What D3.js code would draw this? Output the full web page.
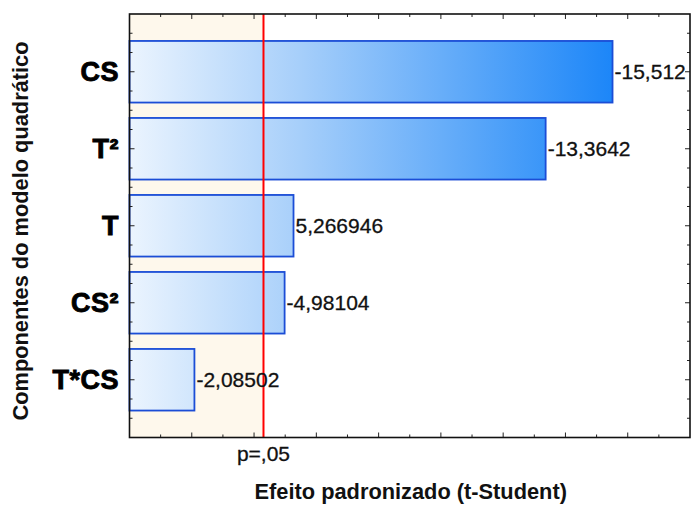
<!DOCTYPE html>
<html>
<head>
<meta charset="utf-8">
<script src="https://cdn.jsdelivr.net/npm/d3@7"></script>
<style>
  html, body { margin: 0; padding: 0; background: #fff; }
  svg { display: block; font-family: "Liberation Sans", Arial, sans-serif; }
</style>
</head>
<body>
<svg id="chart" width="692" height="505"></svg>
<script>
// Pareto chart of standardized effects (t-Student)
const categories = ["CS", "T²", "T", "CS²", "T*CS"];
const effects = [-15.512, -13.3642, 5.266946, -4.98104, -2.08502];
const pLabel = "p=,05";
const tCritical = 4.303;        // t(0.025; 2 gl)
const xDomain = [0, 18];
const xTickValues = d3.range(0, 19, 1);
const yTickValues = d3.range(-0.75, 4.76, 0.25);

const svg = d3.select("#chart");
const plot = { left: 129.5, right: 690, top: 14, bottom: 437.5 };

const x = d3.scaleLinear().domain(xDomain).range([plot.left, plot.right]);
const y = d3.scaleLinear().domain([-0.75, categories.length - 0.25]).range([plot.top, plot.bottom]);

const fmt = v => String(v).replace(".", ",");
const absMax = d3.max(effects, d => Math.abs(d));

// bar gradient spans the plot horizontally
const defs = svg.append("defs");
const grad = defs.append("linearGradient")
  .attr("id", "barGrad")
  .attr("gradientUnits", "userSpaceOnUse")
  .attr("x1", x(0)).attr("x2", x(absMax))
  .attr("y1", 0).attr("y2", 0);
grad.append("stop").attr("offset", 0).attr("stop-color", "#ebf4fe");
grad.append("stop").attr("offset", 0.35).attr("stop-color", "#a7cffa");
grad.append("stop").attr("offset", 1).attr("stop-color", "#1c86f8");

// non-significant region
svg.append("rect")
  .attr("x", x(0)).attr("y", plot.top)
  .attr("width", x(tCritical) - x(0))
  .attr("height", plot.bottom - plot.top)
  .attr("fill", "#fef8ec");

// bars
const barHalf = 0.4;
svg.append("g").selectAll("rect")
  .data(effects)
  .join("rect")
  .attr("x", x(0))
  .attr("y", (d, i) => y(i - barHalf))
  .attr("width", d => x(Math.abs(d)) - x(0))
  .attr("height", (d, i) => y(i + barHalf) - y(i - barHalf))
  .attr("fill", "url(#barGrad)")
  .attr("stroke", "#1b4dd6")
  .attr("stroke-width", 1.8);

// critical value line
svg.append("line")
  .attr("x1", x(tCritical)).attr("x2", x(tCritical))
  .attr("y1", plot.top).attr("y2", plot.bottom)
  .attr("stroke", "#ff0000")
  .attr("stroke-width", 2);

// value labels
svg.append("g").selectAll("text")
  .data(effects)
  .join("text")
  .attr("x", d => x(Math.abs(d)) + 2)
  .attr("y", (d, i) => y(i))
  .attr("dy", "0.36em")
  .attr("font-size", 21)
  .attr("fill", "#111")
  .attr("stroke", "#111")
  .attr("stroke-width", 0.3)
  .text(d => fmt(d));

// inward ticks
const ticks = svg.append("g").attr("stroke", "#222").attr("stroke-width", 1);
xTickValues.forEach(v => {
  if (v === xDomain[0] || v === xDomain[1]) return;
  const len = v % 2 === 0 ? 5 : 3;
  ticks.append("line").attr("x1", x(v)).attr("x2", x(v)).attr("y1", plot.bottom).attr("y2", plot.bottom - len);
  ticks.append("line").attr("x1", x(v)).attr("x2", x(v)).attr("y1", plot.top).attr("y2", plot.top + len);
});
yTickValues.forEach(v => {
  if (v <= -0.75 || v >= categories.length - 0.25) return;
  const len = Number.isInteger(v) ? 5 : 3;
  ticks.append("line").attr("x1", plot.left).attr("x2", plot.left + len).attr("y1", y(v)).attr("y2", y(v));
  ticks.append("line").attr("x1", plot.right).attr("x2", plot.right - len).attr("y1", y(v)).attr("y2", y(v));
});

// plot frame
svg.append("rect")
  .attr("x", plot.left).attr("y", plot.top)
  .attr("width", plot.right - plot.left)
  .attr("height", plot.bottom - plot.top)
  .attr("fill", "none")
  .attr("stroke", "#111")
  .attr("stroke-width", 1.6);

// category labels
svg.append("g").selectAll("text")
  .data(categories)
  .join("text")
  .attr("x", 119)
  .attr("y", (d, i) => y(i))
  .attr("dy", "0.36em")
  .attr("text-anchor", "end")
  .attr("font-size", 27)
  .attr("font-weight", "bold")
  .attr("fill", "#000")
  .attr("stroke", "#000")
  .attr("stroke-width", 0.9)
  .attr("letter-spacing", 0.5)
  .text(d => d);

// p-value label under the critical line
svg.append("text")
  .attr("x", x(tCritical))
  .attr("y", 461)
  .attr("text-anchor", "middle")
  .attr("font-size", 21)
  .attr("fill", "#111")
  .attr("stroke", "#111")
  .attr("stroke-width", 0.3)
  .text(pLabel);

// axis titles
svg.append("text")
  .attr("x", (plot.left + plot.right) / 2 + 1)
  .attr("y", 499)
  .attr("text-anchor", "middle")
  .attr("font-size", 21.8)
  .attr("font-weight", "bold")
  .attr("fill", "#111")
  .text("Efeito padronizado (t-Student)");

svg.append("text")
  .attr("transform", `translate(28, 231) rotate(-90)`)
  .attr("text-anchor", "middle")
  .attr("font-size", 21.8)
  .attr("font-weight", "bold")
  .attr("fill", "#111")
  .text("Componentes do modelo quadrático");
</script>
</body>
</html>
